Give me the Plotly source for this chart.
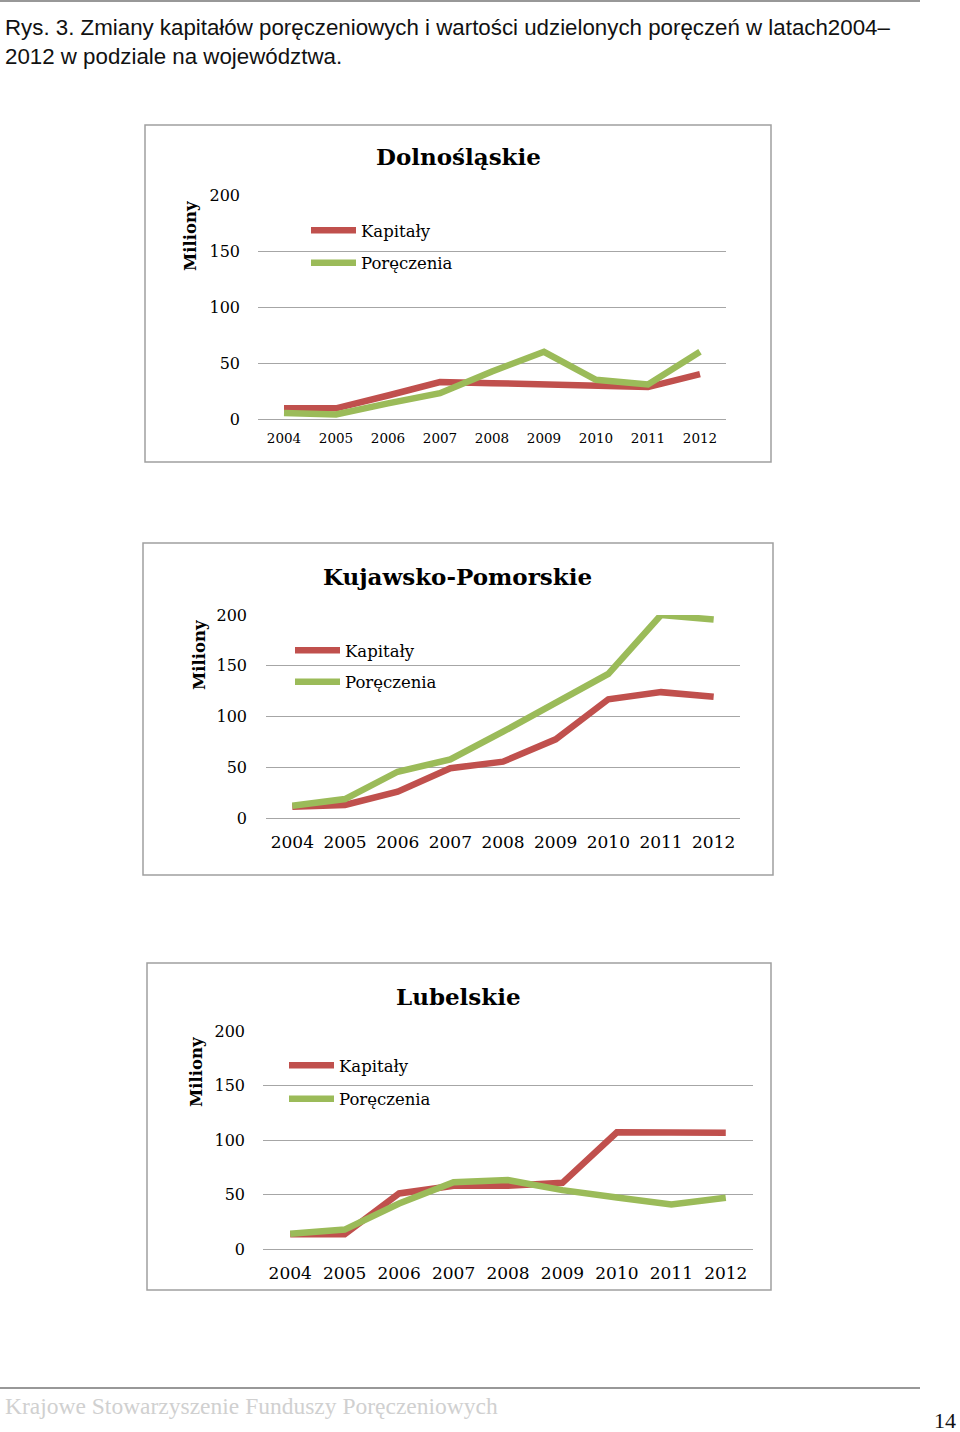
import plotly.graph_objects as go

W, H = 960, 1432

years = ["2004", "2005", "2006", "2007", "2008", "2009", "2010", "2011", "2012"]

dol_kapitaly = [9.5, 9.5, 21, 33, 32, 30.6, 29.7, 28.5, 40]
dol_poreczenia = [5.3, 4, 14, 23, 42.5, 60, 35, 30.8, 60]

kuj_kapitaly = [11, 12.8, 26, 49, 55.5, 77.5, 117, 124, 119.5]
kuj_poreczenia = [12, 18.7, 45.6, 57.7, 85, 113, 142, 200, 195.5]

lub_kapitaly = [13.5, 13.5, 51, 58, 58, 60.7, 107, 107, 106.7]
lub_poreczenia = [14, 17.8, 41.7, 61.3, 63.2, 54, 47.3, 40.8, 47]

titles = ["Dolnośląskie", "Kujawsko-Pomorskie", "Lubelskie"]
series_names = ["Kapitały", "Poręczenia"]
y_ticks = [0, 50, 100, 150, 200]
axis_title = "Miliony"

RED = "#C0504D"
GREEN = "#9BBB59"
GRID = "#A6A6A6"
SERIF = "DejaVu Serif"


def px(x):
    return x / W


def py(y):
    return 1 - y / H


# layout specs per chart (pixel geometry)
charts = [
    dict(data=(dol_kapitaly, dol_poreczenia), plot=(258, 726, 195, 419), box=(145, 771, 125, 462),
         title_xy=(458, 157), ylab_xy=(190, 236), leg_xy=(306, 213), gap=8, xfont=13.5, yfont=16,
         xstand=9, ystand=17),
    dict(data=(kuj_kapitaly, kuj_poreczenia), plot=(266, 740, 615, 818), box=(143, 773, 543, 875),
         title_xy=(457, 576), ylab_xy=(199, 655), leg_xy=(290, 633), gap=7, xfont=17, yfont=16,
         xstand=12, ystand=18),
    dict(data=(lub_kapitaly, lub_poreczenia), plot=(263, 753, 1031, 1249), box=(147, 771, 963, 1290),
         title_xy=(458, 996), ylab_xy=(196, 1072), leg_xy=(284, 1048), gap=9, xfont=17, yfont=16,
         xstand=12, ystand=17),
]

fig = go.Figure()
annotations = []
shapes = []

for i, c in enumerate(charts, start=1):
    sfx = "" if i == 1 else str(i)
    leg = "legend" if i == 1 else f"legend{i}"
    kap, por = c["data"]
    for name, vals, col in ((series_names[0], kap, RED), (series_names[1], por, GREEN)):
        fig.add_trace(go.Scatter(
            x=years, y=vals, mode="lines", name=name,
            line=dict(color=col, width=6.5),
            xaxis="x" + sfx, yaxis="y" + sfx, legend=leg,
            legendgroup=f"{i}{name}", showlegend=True,
        ))
    x0, x1, y0, y1 = c["plot"]
    fig.update_layout(**{
        "xaxis" + sfx: dict(
            domain=[px(x0), px(x1)], anchor="y" + sfx, type="category",
            range=[-0.5, len(years) - 0.5],
            showgrid=False, showline=False, zeroline=False, ticks="",
            ticklabelstandoff=c["xstand"], automargin=False,
            tickfont=dict(family=SERIF, size=c["xfont"], color="#000"),
        ),
        "yaxis" + sfx: dict(
            domain=[py(y1), py(y0)], anchor="x" + sfx, range=[0, 200],
            tickvals=y_ticks, showgrid=True, gridcolor=GRID, gridwidth=1,
            zeroline=True, zerolinecolor=GRID, zerolinewidth=1,
            showline=False, ticks="", ticklabelstandoff=c["ystand"], automargin=False,
            tickfont=dict(family=SERIF, size=c["yfont"], color="#000"),
        ),
        leg: dict(
            x=px(c["leg_xy"][0]), y=py(c["leg_xy"][1]), xanchor="left", yanchor="top",
            bgcolor="rgba(0,0,0,0)", borderwidth=0, itemwidth=45,
            tracegroupgap=c["gap"],
            font=dict(family=SERIF, size=16.5, color="#000"),
        ),
    })
    bx0, bx1, by0, by1 = c["box"]
    shapes.append(dict(type="rect", xref="paper", yref="paper",
                       x0=px(bx0), x1=px(bx1), y0=py(by1), y1=py(by0),
                       line=dict(color="#A0A0A0", width=1.5), layer="below"))
    annotations.append(dict(text=titles[i - 1], xref="paper", yref="paper",
                            x=px(c["title_xy"][0]), y=py(c["title_xy"][1]),
                            xanchor="center", yanchor="middle", showarrow=False,
                            font=dict(family=SERIF, size=23, color="#000", weight="bold")))
    annotations.append(dict(text=axis_title, xref="paper", yref="paper",
                            x=px(c["ylab_xy"][0]), y=py(c["ylab_xy"][1]),
                            xanchor="center", yanchor="middle", showarrow=False, textangle=-90,
                            font=dict(family=SERIF, size=16.5, color="#000", weight="bold")))

# page header / footer
annotations.append(dict(
    text="Rys. 3. Zmiany kapitałów poręczeniowych i wartości udzielonych poręczeń w latach2004–<br>2012 w podziale na województwa.",
    xref="paper", yref="paper", x=px(3), y=py(13), xanchor="left", yanchor="top",
    align="left", showarrow=False,
    font=dict(family="Liberation Sans", size=22.3, color="#111")))
annotations.append(dict(
    text="Krajowe Stowarzyszenie Funduszy Poręczeniowych",
    xref="paper", yref="paper", x=px(3), y=py(1406), xanchor="left", yanchor="middle",
    showarrow=False, font=dict(family="Liberation Serif", size=23.5, color="#D0D0D0")))
annotations.append(dict(
    text="14", xref="paper", yref="paper", x=px(945), y=py(1420), xanchor="center", yanchor="middle",
    showarrow=False, font=dict(family="Liberation Serif", size=22, color="#111")))

shapes.append(dict(type="line", xref="paper", yref="paper", x0=0, x1=px(920), y0=py(1), y1=py(1),
                   line=dict(color="#333", width=1.2)))
shapes.append(dict(type="line", xref="paper", yref="paper", x0=0, x1=px(920), y0=py(1388), y1=py(1388),
                   line=dict(color="#333", width=1.2)))

fig.update_layout(
    width=W, height=H, margin=dict(l=0, r=0, t=0, b=0, autoexpand=False),
    paper_bgcolor="white", plot_bgcolor="white",
    annotations=annotations, shapes=shapes,
)

fig.write_html(
    "out.html",
    config={"displayModeBar": False},
    post_script="document.body.style.margin='0';document.body.style.padding='0';"
                "document.documentElement.style.overflow='hidden';",
)
